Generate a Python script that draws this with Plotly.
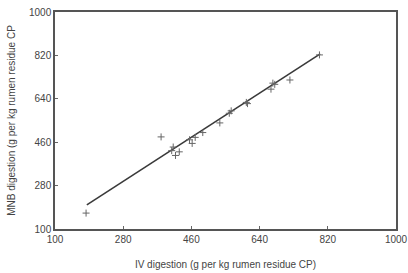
import plotly.graph_objects as go

iv_digestion = [182, 380, 408, 412, 418, 428, 455, 462, 470, 490, 535, 560, 565, 605, 608, 670, 675, 680, 720, 798]
mnb_digestion = [166, 482, 425, 440, 405, 420, 470, 455, 480, 500, 540, 580, 590, 625, 620, 680, 705, 700, 718, 822]
fit_x = [184, 800]
fit_y = [200, 826]
tick_vals = [100, 280, 460, 640, 820, 1000]

fig = go.Figure()
fig.add_trace(go.Scatter(x=fit_x, y=fit_y, mode="lines",
                         line=dict(color="#3a3a3a", width=1.6), showlegend=False))
fig.add_trace(go.Scatter(x=iv_digestion, y=mnb_digestion, mode="markers",
                         marker=dict(symbol="cross-thin", size=5, line=dict(color="#666", width=1)),
                         showlegend=False))

font = dict(family="Liberation Sans, Arial, sans-serif", size=10, color="#444")
axis_common = dict(range=[100, 1000], tickvals=tick_vals, ticks="inside", ticklen=3,
                   tickcolor="#666", showgrid=False, zeroline=False, showline=True,
                   linecolor="#555", linewidth=1.5, mirror=True, tickfont=font,
                   automargin=False)
fig.update_layout(
    width=408, height=273,
    margin=dict(l=55, r=12, t=12, b=44),
    paper_bgcolor="white", plot_bgcolor="white",
    font=font,
    xaxis=dict(**axis_common, title=dict(text="IV digestion (g per kg rumen residue CP)", font=font, standoff=17)),
    yaxis=dict(**axis_common, title=dict(text="MNB digestion (g per kg rumen residue CP", font=font, standoff=12)),
)
fig.write_html("out.html", config={"displayModeBar": False},
               post_script="document.body.style.margin='0';document.body.style.overflow='hidden';")
